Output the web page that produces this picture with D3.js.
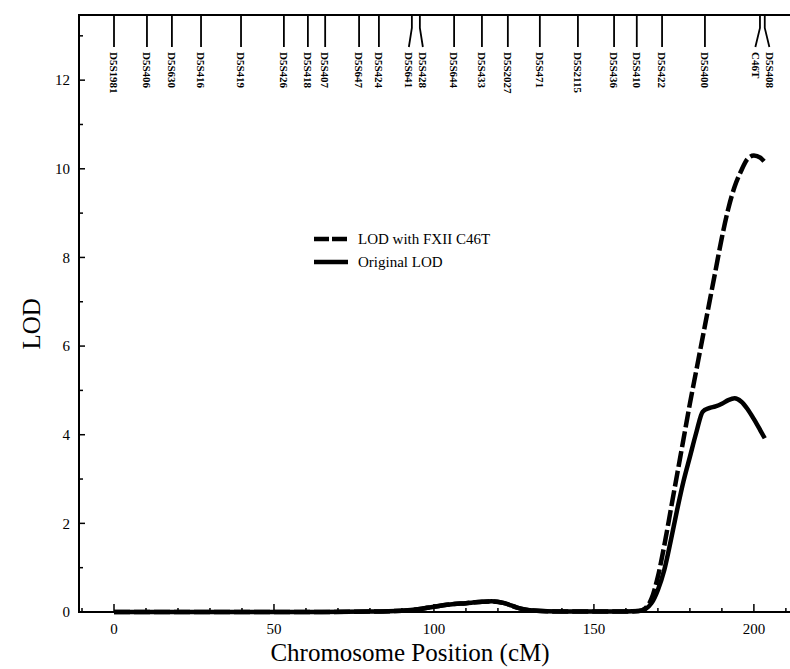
<!DOCTYPE html>
<html>
<head>
<meta charset="utf-8">
<script src="https://cdn.jsdelivr.net/npm/d3@7"></script>
<style>
  body { margin: 0; background: #fff; }
  svg text { font-family: "Liberation Serif", "DejaVu Serif", serif; fill: #000; }
</style>
</head>
<body>
<svg id="chart" width="790" height="669"></svg>
<script>
// marker map along the top of the plot (position in cM)
let markerNames = ['D5S1981', 'D5S406', 'D5S630', 'D5S416', 'D5S419', 'D5S426', 'D5S418',
    'D5S407', 'D5S647', 'D5S424', 'D5S641', 'D5S428', 'D5S644', 'D5S433', 'D5S2027',
    'D5S471', 'D5S2115', 'D5S436', 'D5S410', 'D5S422', 'D5S400', 'C46T', 'D5S408'];
let markerPos = [0, 10.3, 18.1, 27.2, 39.7, 53.1, 60.6, 66.0, 76.6, 82.8, 93.1, 95.6,
    106.3, 115.0, 123.1, 133.1, 145.0, 156.3, 163.4, 171.3, 184.7, 201.9, 203.4];

// LOD curves
let positions = [0, 20, 40, 60, 80, 90, 95, 100, 105, 110, 115, 118, 122, 126, 130, 140, 150,
    160, 164, 166, 168, 170, 172, 174, 176, 178, 180, 182, 184, 186, 188, 190, 192, 194,
    196, 198, 200, 202, 203.4];
let originalLod = [0, 0, 0, 0, 0.01, 0.03, 0.06, 0.12, 0.17, 0.2, 0.23, 0.24, 0.2, 0.1, 0.04,
    0.01, 0.01, 0.01, 0.02, 0.06, 0.2, 0.5, 0.95, 1.6, 2.3, 2.95, 3.5, 4.05, 4.52, 4.6, 4.64,
    4.7, 4.78, 4.82, 4.75, 4.58, 4.35, 4.1, 3.92];
let fxiiLod = [0, 0, 0, 0, 0.01, 0.03, 0.06, 0.12, 0.17, 0.2, 0.23, 0.24, 0.2, 0.1, 0.04,
    0.01, 0.01, 0.01, 0.02, 0.08, 0.3, 0.8, 1.5, 2.3, 3.1, 3.9, 4.7, 5.45, 6.2, 6.95, 7.7,
    8.45, 9.1, 9.6, 9.95, 10.22, 10.3, 10.25, 10.15];

let xTicks = [0, 50, 100, 150, 200];
let yTicks = [0, 2, 4, 6, 8, 10, 12];

let margin = {top: 15, right: -1, bottom: 57, left: 79};
let width = 790, height = 669;

let svg = d3.select('#chart');

let xScale = d3.scaleLinear()
    .domain([-10.94, 211.6])
    .range([margin.left, width - margin.right]);

let yScale = d3.scaleLinear()
    .domain([0, 13.47])
    .range([height - margin.bottom, margin.top]);

let plotTop = margin.top, plotBottom = height - margin.bottom;

// frame (left, top, bottom)
svg.append('path')
    .attr('d', `M${xScale.range()[1]},${plotTop} H${margin.left} V${plotBottom} H${xScale.range()[1]}`)
    .attr('fill', 'none')
    .attr('stroke', '#000')
    .attr('stroke-width', 2);

// y axis: ticks pointing inwards, minor every 1
let yAxis = svg.append('g').attr('class', 'y axis');
d3.range(0, 14).forEach(v => {
    yAxis.append('line')
        .attr('x1', margin.left).attr('x2', margin.left + (v % 2 === 0 ? 6 : 4))
        .attr('y1', yScale(v)).attr('y2', yScale(v))
        .attr('stroke', '#000').attr('stroke-width', 1.5);
});
yAxis.selectAll('text')
    .data(yTicks)
    .join('text')
    .attr('x', 70)
    .attr('y', d => yScale(d))
    .attr('dy', '0.35em')
    .attr('text-anchor', 'end')
    .attr('font-size', 15)
    .text(d => d);

// x axis: ticks pointing up, minor every 10 cM
let xAxis = svg.append('g').attr('class', 'x axis');
d3.range(-10, 211, 10).forEach(v => {
    xAxis.append('line')
        .attr('x1', xScale(v)).attr('x2', xScale(v))
        .attr('y1', plotBottom).attr('y2', plotBottom - (v % 50 === 0 ? 8 : 4))
        .attr('stroke', '#000').attr('stroke-width', 1.5);
});
xAxis.selectAll('text')
    .data(xTicks)
    .join('text')
    .attr('x', d => xScale(d))
    .attr('y', plotBottom + 22)
    .attr('text-anchor', 'middle')
    .attr('font-size', 15)
    .text(d => d);

// axis titles
svg.append('text')
    .attr('x', 410)
    .attr('y', 661)
    .attr('text-anchor', 'middle')
    .attr('font-size', 25)
    .text('Chromosome Position (cM)');

svg.append('text')
    .attr('transform', `translate(40, ${yScale(6.5)}) rotate(-90)`)
    .attr('text-anchor', 'middle')
    .attr('font-size', 25)
    .text('LOD');

// marker ticks + labels, spread apart where they crowd each other
let tickX = markerPos.map(p => xScale(p));
let labelX = tickX.slice();
let minGap = 14;
for (let iter = 0; iter < 20; iter++) {
    for (let i = 1; i < labelX.length; i++) {
        let gap = labelX[i] - labelX[i - 1];
        if (gap < minGap) {
            labelX[i - 1] -= (minGap - gap) / 2;
            labelX[i] += (minGap - gap) / 2;
        }
    }
}

let markers = svg.append('g').attr('class', 'markers');
markerNames.forEach((name, i) => {
    markers.append('path')
        .attr('d', `M${tickX[i]},${plotTop} V${plotTop + 13} L${labelX[i]},${plotTop + 32}`)
        .attr('fill', 'none')
        .attr('stroke', '#000')
        .attr('stroke-width', 1.8);
    markers.append('text')
        .attr('transform', `translate(${labelX[i]}, ${plotTop + 37}) rotate(90)`)
        .attr('dy', '0.35em')
        .attr('font-size', 11)
        .attr('font-weight', 'bold')
        .text(name);
});

// LOD lines
let line = d3.line()
    .x(d => xScale(d[0]))
    .y(d => yScale(d[1]))
    .curve(d3.curveMonotoneX);

svg.append('path')
    .datum(positions.map((p, i) => [p, originalLod[i]]))
    .attr('fill', 'none')
    .attr('stroke', '#000')
    .attr('stroke-width', 4.5)
    .attr('stroke-linejoin', 'round')
    .attr('d', line);

svg.append('path')
    .datum(positions.map((p, i) => [p, fxiiLod[i]]))
    .attr('fill', 'none')
    .attr('stroke', '#000')
    .attr('stroke-width', 4.5)
    .attr('stroke-dasharray', '16,4')
    .attr('d', line);

// legend
let legend = svg.append('g').attr('class', 'legend');
let legendItems = [
    {label: 'LOD with FXII C46T', dash: '15,3'},
    {label: 'Original LOD', dash: null}
];
legendItems.forEach((item, i) => {
    let y = 239 + i * 23;
    legend.append('line')
        .attr('x1', 314).attr('x2', 348)
        .attr('y1', y).attr('y2', y)
        .attr('stroke', '#000')
        .attr('stroke-width', 4.5)
        .attr('stroke-dasharray', item.dash);
    legend.append('text')
        .attr('x', 358)
        .attr('y', y)
        .attr('dy', '0.35em')
        .attr('font-size', 15)
        .text(item.label);
});
</script>
</body>
</html>
